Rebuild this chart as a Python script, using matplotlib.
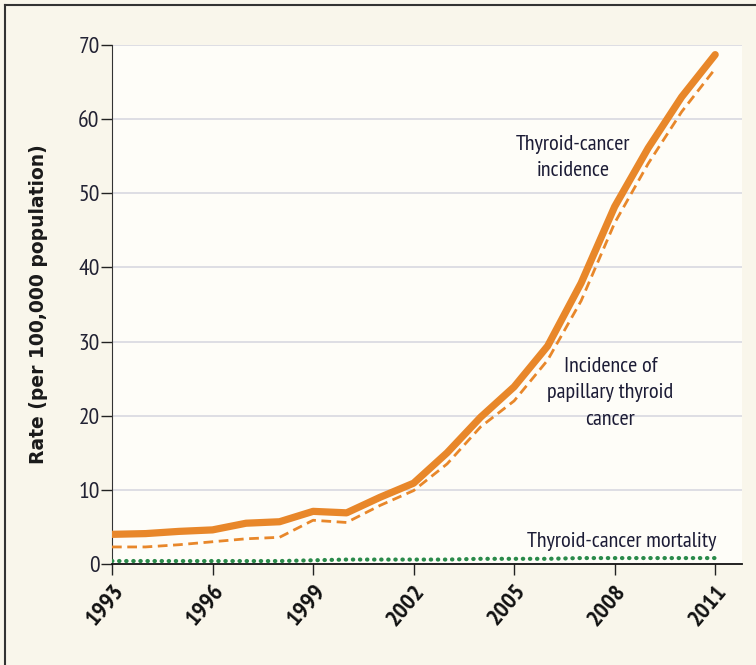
import matplotlib.pyplot as plt
from matplotlib.lines import Line2D

years = list(range(1993, 2012))
incidence = [4.0, 4.1, 4.4, 4.6, 5.5, 5.7, 7.1, 6.9, 9.0, 10.9,
             15.0, 19.8, 23.9, 29.4, 37.9, 48.2, 56.1, 63.0, 68.7]
papillary = [2.3, 2.3, 2.6, 3.0, 3.4, 3.6, 5.9, 5.6, 7.9, 9.9,
             13.5, 18.5, 22.0, 27.5, 35.5, 46.0, 54.0, 61.0, 66.8]
mortality = [0.4, 0.4, 0.4, 0.4, 0.4, 0.4, 0.5, 0.6, 0.6, 0.6,
             0.6, 0.7, 0.7, 0.7, 0.8, 0.8, 0.8, 0.8, 0.8]
xticks = [1993, 1996, 1999, 2002, 2005, 2008, 2011]
yticks = [0, 10, 20, 30, 40, 50, 60, 70]

narrow = ['PT Sans Narrow', 'Roboto Condensed', 'Open Sans Condensed',
          'Liberation Sans Narrow', 'DejaVu Sans']
txt = '#1c1c36'
orange = '#e8872a'

fig = plt.figure(figsize=(7.56, 6.65), dpi=100, facecolor='#f9f6eb')
ax = fig.add_axes([112/756, 1-564/665, 630/756, 519/665])
ax.set_facecolor('#fefdf8')

ax.plot(years, incidence, color=orange, lw=5.2, solid_capstyle='round',
        solid_joinstyle='round', zorder=4)
ax.plot(years, papillary, color=orange, lw=2.0, ls=(0, (3.5, 2)), zorder=3)
ax.plot(years, mortality, color='#2a8a4a', lw=3.0, ls=(0, (0.1, 1.6)),
        dash_capstyle='round', zorder=3)

ax.set_xlim(1993, 2011.8)
ax.set_ylim(0, 70)
ax.set_xticks(xticks)
ax.set_yticks(yticks)
ax.set_xticklabels([str(x) for x in xticks], rotation=50, ha='right',
                   rotation_mode='anchor', fontsize=17.5, fontweight='bold',
                   family=narrow, color='#111111')
ax.set_yticklabels([str(y) for y in yticks], fontsize=17, family=narrow,
                   color='#222233')
ax.tick_params(axis='both', direction='out', length=8, width=1, color='#222222')
ax.tick_params(axis='y', pad=1)
ax.tick_params(axis='x', pad=4)

for y in yticks[1:]:
    ax.axhline(y, color='#d8d8e0', lw=1.2, zorder=1)

for s in ['top', 'right']:
    ax.spines[s].set_visible(False)
ax.spines['left'].set_color('#333333')
ax.spines['bottom'].set_color('#111111')
ax.spines['bottom'].set_linewidth(1.3)

ax.set_ylabel('Rate (per 100,000 population)', fontsize=13.5,
              fontweight='bold', color='#1a1a1a', labelpad=22)

ax.text(2006.76, 54.8, 'Thyroid-cancer\nincidence', ha='center', va='center',
        fontsize=16, family=narrow, color=txt, linespacing=1.5)
ax.text(2007.87, 23.1, 'Incidence of\npapillary thyroid\ncancer', ha='center',
        va='center', fontsize=16, family=narrow, color=txt, linespacing=1.5)
ax.text(2011.05, 3.1, 'Thyroid-cancer mortality', ha='right', va='center',
        fontsize=16, family=narrow, color=txt)

# outer frame (top and left edges visible)
fig.add_artist(Line2D([5/756, 5/756], [0, 1-5/665], transform=fig.transFigure,
                      color='#333333', lw=1.5))
fig.add_artist(Line2D([5/756, 1], [1-5/665, 1-5/665], transform=fig.transFigure,
                      color='#333333', lw=1.5))

fig.savefig('out.png', dpi=100, facecolor=fig.get_facecolor())
